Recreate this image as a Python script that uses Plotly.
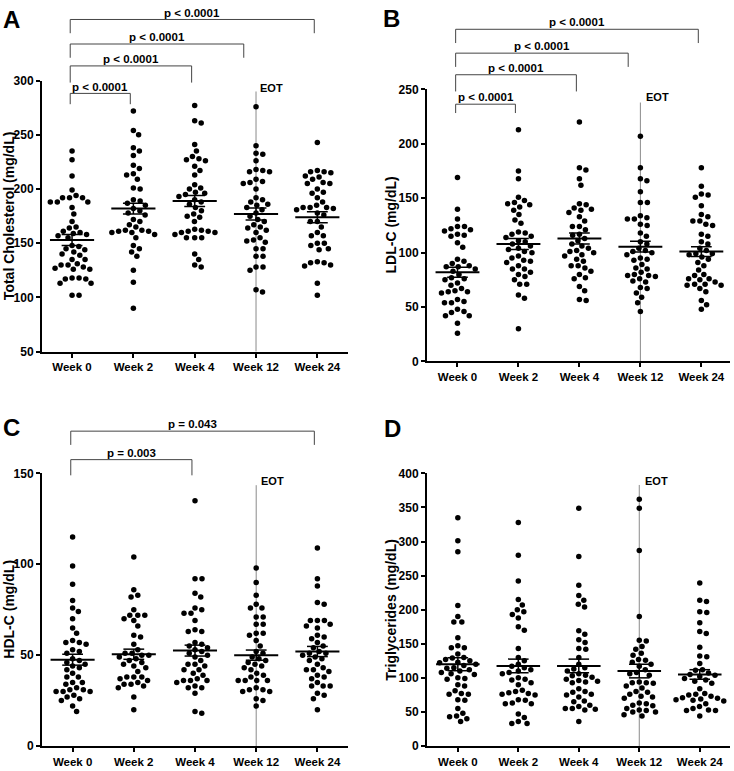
import plotly.graph_objects as go

W, H = 734, 771

weeks = ["Week 0", "Week 2", "Week 4", "Week 12", "Week 24"]

# ---------------- data ----------------
tc_w0 = [235, 227, 212, 199, 194, 192, 192, 192, 188, 188, 188, 183, 177, 170, 165, 164, 161, 160, 159, 158,
         157, 155, 148, 147, 145, 144, 142, 140, 139, 135, 135, 131, 130, 130, 128, 127, 126, 126, 118, 118,
         117, 117, 113, 113, 102, 102]
tc_w2 = [272, 254, 250, 238, 235, 231, 222, 219, 214, 213, 209, 201, 200, 190, 189, 187, 185, 182, 180, 178,
         176, 172, 170, 167, 165, 162, 162, 161, 161, 160, 160, 158, 155, 148, 145, 142, 138, 125, 114, 90]
tc_w4 = [277, 263, 261, 241, 235, 230, 228, 227, 226, 221, 217, 213, 204, 201, 200, 197, 196, 195, 193, 190,
         188, 186, 183, 180, 177, 175, 174, 170, 163, 162, 161, 161, 160, 160, 158, 155, 155, 155, 140, 135,
         130, 128]
tc_w12 = [276, 240, 233, 232, 226, 218, 217, 216, 216, 209, 207, 206, 205, 200, 192, 190, 188, 186, 185, 183,
          181, 178, 175, 172, 170, 167, 165, 164, 162, 160, 155, 153, 152, 151, 145, 145, 138, 138, 128, 128,
          125, 107, 105]
tc_w24 = [243, 217, 216, 216, 215, 212, 211, 209, 206, 205, 205, 200, 197, 196, 192, 188, 185, 183, 183, 183,
          182, 181, 178, 176, 170, 170, 165, 160, 157, 157, 150, 150, 148, 145, 144, 133, 132, 132, 130, 129,
          113, 102]
tc_mean = [153, 182, 189, 177, 174]
tc_sem = [5, 5, 5, 5.5, 5]

ldl_w0 = [169, 140, 131, 124, 124, 122, 121, 120, 117, 116, 115, 109, 105, 94, 92, 90, 88, 87, 87, 85,
          83, 80, 77, 76, 75, 72, 70, 67, 65, 64, 64, 63, 57, 55, 54, 54, 48, 46, 45, 42, 42, 35, 26]
ldl_w2 = [213, 175, 168, 151, 148, 146, 145, 144, 142, 139, 135, 130, 127, 119, 118, 117, 115, 114, 111, 110,
          108, 106, 104, 103, 101, 100, 97, 95, 93, 92, 91, 88, 85, 85, 82, 80, 78, 75, 71, 71, 61, 58, 30]
ldl_w4 = [220, 178, 176, 168, 162, 145, 144, 141, 140, 139, 137, 133, 129, 124, 124, 121, 117, 116, 113, 111,
          108, 106, 104, 102, 101, 100, 98, 97, 94, 92, 88, 88, 86, 83, 80, 77, 76, 69, 65, 57, 56]
ldl_w12 = [207, 178, 168, 166, 156, 146, 146, 134, 132, 131, 131, 126, 125, 118, 115, 110, 108, 104, 102, 101,
           100, 98, 95, 94, 93, 89, 86, 85, 82, 80, 79, 79, 78, 76, 74, 73, 68, 67, 63, 59, 54, 46]
ldl_w24 = [178, 161, 154, 153, 151, 143, 135, 133, 129, 129, 126, 125, 117, 115, 110, 108, 104, 102, 99, 99,
           98, 96, 94, 91, 88, 84, 80, 79, 76, 76, 75, 73, 71, 71, 70, 70, 67, 64, 56, 52, 48]
ldl_mean = [82, 108, 113, 105.5, 101]
ldl_sem = [4.5, 5, 5, 5, 4.5]

hdl_w0 = [115, 99, 89, 80, 76, 74, 70, 65, 62, 58, 57, 57, 56, 53, 52, 51, 48, 47, 46, 45,
          44, 43, 42, 40, 38, 38, 35, 35, 34, 32, 31, 31, 30, 30, 30, 28, 27, 26, 25, 22, 19]
hdl_w2 = [104, 86, 83, 82, 75, 72, 72, 72, 70, 69, 66, 61, 60, 56, 53, 51, 51, 50, 50, 49,
          48, 47, 46, 45, 44, 43, 41, 38, 38, 38, 37, 36, 35, 34, 34, 33, 32, 27, 20]
hdl_w4 = [135, 92, 92, 84, 82, 76, 75, 73, 73, 69, 64, 63, 63, 57, 56, 55, 54, 53, 52, 51,
          50, 49, 47, 45, 45, 44, 42, 42, 40, 39, 37, 36, 36, 36, 35, 33, 32, 32, 29, 19, 18]
hdl_w12 = [98, 90, 83, 78, 76, 76, 71, 71, 67, 67, 62, 62, 61, 58, 55, 52, 51, 49, 48, 47,
           46, 45, 44, 43, 42, 40, 39, 38, 36, 36, 36, 36, 32, 31, 31, 30, 30, 26, 25, 22]
hdl_w24 = [109, 92, 88, 79, 78, 69, 69, 69, 67, 66, 65, 61, 60, 59, 57, 55, 54, 52, 51, 51,
           50, 49, 48, 47, 45, 43, 42, 42, 41, 39, 38, 37, 35, 33, 33, 33, 29, 28, 26, 20]
hdl_mean = [47.5, 50.5, 52.5, 50, 52]
hdl_sem = [3, 2.8, 3, 2.8, 2.8]

tg_w0 = [335, 301, 285, 206, 190, 182, 182, 159, 147, 144, 144, 135, 130, 129, 127, 125, 123, 122, 120, 118,
         115, 114, 112, 110, 108, 106, 105, 100, 99, 98, 90, 88, 81, 77, 76, 76, 68, 67, 55, 48, 44, 43, 40, 36]
tg_w2 = [328, 280, 242, 215, 207, 200, 197, 193, 188, 175, 170, 143, 130, 125, 120, 117, 115, 112, 110, 108,
         106, 100, 98, 97, 93, 90, 82, 80, 78, 77, 76, 75, 68, 67, 63, 62, 62, 47, 42, 36, 33, 33]
tg_w4 = [349, 278, 236, 221, 214, 208, 204, 169, 164, 156, 152, 143, 142, 130, 120, 115, 113, 110, 106, 104,
         103, 101, 98, 96, 95, 94, 93, 84, 80, 79, 76, 75, 72, 66, 65, 60, 58, 55, 55, 54, 53, 36]
tg_w12 = [362, 349, 287, 190, 155, 154, 146, 142, 136, 133, 127, 126, 123, 120, 117, 112, 108, 106, 104, 94,
          93, 93, 92, 88, 85, 80, 79, 76, 73, 72, 70, 63, 62, 60, 59, 55, 53, 52, 50, 50, 46, 44]
tg_w24 = [239, 214, 212, 197, 196, 181, 168, 165, 145, 132, 131, 121, 112, 111, 107, 105, 104, 102, 99, 97,
          95, 92, 84, 77, 76, 75, 73, 71, 70, 69, 68, 67, 66, 62, 58, 55, 53, 52, 52, 44]
tg_mean = [120, 117.5, 117.5, 110, 105]
tg_sem = [9.5, 10, 10, 10, 7]

p_labels_A = ["p < 0.0001", "p < 0.0001", "p < 0.0001", "p < 0.0001"]
p_labels_B = ["p < 0.0001", "p < 0.0001", "p < 0.0001", "p < 0.0001"]
p_labels_C = ["p = 0.003", "p = 0.043"]

# ---------------- layout helpers ----------------
def px(x):
    return x / W


def py(y):
    return 1 - y / H


FONT = "Liberation Sans, Arial, Helvetica, sans-serif"

panels = [
    dict(letter="A", groups=[tc_w0, tc_w2, tc_w4, tc_w12, tc_w24], mean=tc_mean, sem=tc_sem,
         title="Total Cholesterol (mg/dL)", xdom=(42, 348), ydom=(351, 75), yr=(50, 300), xr=(-0.49, 4.5),
         letter_pos=(12, 13), title_x=9, eot_top=290, eot_txt=(271, 82),
         brackets=[(1, 88, 11, p_labels_A[0]), (2, 60, 17, p_labels_A[1]),
                   (3, 37.7, 14, p_labels_A[2]), (4, 12.7, 14, p_labels_A[3])]),
    dict(letter="B", groups=[ldl_w0, ldl_w2, ldl_w4, ldl_w12, ldl_w24], mean=ldl_mean, sem=ldl_sem,
         title="LDL-C (mg/dL)", xdom=(427, 730), ydom=(361, 84), yr=(0, 250), xr=(-0.5, 4.47),
         letter_pos=(391, 12), title_x=391, eot_top=238, eot_txt=(657, 92),
         brackets=[(1, 99, 9, p_labels_B[0]), (2, 69, 17, p_labels_B[1]),
                   (3, 47, 14, p_labels_B[2]), (4, 22.7, 14, p_labels_B[3])]),
    dict(letter="C", groups=[hdl_w0, hdl_w2, hdl_w4, hdl_w12, hdl_w24], mean=hdl_mean, sem=hdl_sem,
         title="HDL-C (mg/dL)", xdom=(42, 348), ydom=(752.7, 475), yr=(0, 150), xr=(-0.5, 4.5),
         letter_pos=(12, 428), title_x=9, eot_top=143.5, eot_txt=(272, 483),
         brackets=[(2, 461, 16, p_labels_C[0]), (4, 432, 14, p_labels_C[1])]),
    dict(letter="D", groups=[tg_w0, tg_w2, tg_w4, tg_w12, tg_w24], mean=tg_mean, sem=tg_sem,
         title="Triglycerides (mg/dL)", xdom=(427, 730), ydom=(752.7, 475), yr=(0, 400), xr=(-0.51, 4.5),
         letter_pos=(392, 429), title_x=391, eot_top=383, eot_txt=(656, 483),
         brackets=[]),
]


def swarm(vals, ypx_per_unit, dmin=6.8, step=0.25):
    placed = []
    offs = {}
    order = sorted(range(len(vals)), key=lambda i: -vals[i])
    cands = [0.0]
    k = 1
    while k * step < 80:
        cands += [k * step, -k * step]
        k += 1
    for i in order:
        yv = vals[i] * ypx_per_unit
        for c in cands:
            ok = True
            for (qx, qy) in placed:
                if (c - qx) ** 2 + (yv - qy) ** 2 < dmin * dmin:
                    ok = False
                    break
            if ok:
                placed.append((c, yv))
                offs[i] = c
                break
    return [offs[i] for i in range(len(vals))]


fig = go.Figure()
layout = dict(width=W, height=H, margin=dict(l=0, r=0, t=0, b=0), paper_bgcolor="white",
              plot_bgcolor="white", showlegend=False)
shapes = []
annots = []

for n, p in enumerate(panels):
    sfx = "" if n == 0 else str(n + 1)
    xa, ya = "x" + sfx, "y" + sfx
    x0p, x1p = p["xdom"]
    yb, yt = p["ydom"]
    ypx = (yb - yt) / (p["yr"][1] - p["yr"][0])
    xpx = (x1p - x0p) / (p["xr"][1] - p["xr"][0])

    layout["xaxis" + sfx] = dict(domain=[px(x0p), px(x1p)], range=list(p["xr"]), anchor=ya,
                                 tickvals=list(range(5)), ticktext=weeks, showline=True, linewidth=2,
                                 linecolor="black", ticks="outside", ticklen=4, tickwidth=2,
                                 tickcolor="black", showgrid=False, zeroline=False,
                                 tickfont=dict(family=FONT, size=11.5, color="black", weight="bold"))
    layout["yaxis" + sfx] = dict(domain=[py(yb), py(yt)], range=list(p["yr"]), anchor=xa, dtick=50,
                                 showline=True, linewidth=2, linecolor="black", ticks="outside",
                                 ticklen=4, tickwidth=2, tickcolor="black", showgrid=False,
                                 zeroline=False, ticklabelstandoff=0,
                                 tickfont=dict(family=FONT, size=12, color="black", weight="bold"))

    # EOT line
    shapes.append(dict(type="line", xref=xa, yref=ya, x0=3, x1=3, y0=p["yr"][0], y1=p["eot_top"],
                       line=dict(color="#8a8a8a", width=1), layer="below"))
    annots.append(dict(text="<b>EOT</b>", x=px(p["eot_txt"][0]), y=py(p["eot_txt"][1]), xref="paper",
                       yref="paper", showarrow=False, xanchor="center", yanchor="middle",
                       font=dict(family=FONT, size=11, color="black")))

    for g, vals in enumerate(p["groups"]):
        offs = swarm(vals, ypx)
        fig.add_trace(go.Scatter(x=[g + o / xpx for o in offs], y=vals, mode="markers", xaxis=xa, yaxis=ya,
                                 marker=dict(size=5.5, color="black", line=dict(width=0)),
                                 cliponaxis=False, hoverinfo="y"))
        m, s = p["mean"][g], p["sem"][g]
        fig.add_trace(go.Scatter(x=[g - 0.36, g + 0.36], y=[m, m], mode="lines", xaxis=xa, yaxis=ya,
                                 line=dict(color="black", width=2), hoverinfo="skip"))
        fig.add_trace(go.Scatter(x=[g - 0.17, g + 0.17, None, g, g, None, g - 0.17, g + 0.17],
                                 y=[m + s, m + s, None, m + s, m - s, None, m - s, m - s], mode="lines",
                                 xaxis=xa, yaxis=ya, line=dict(color="black", width=1.5), hoverinfo="skip"))

    # significance brackets
    for (j, yline, drop, lab) in p["brackets"]:
        left = -0.03
        right = j - (0.2 if j == 3 else 0.05)
        shapes.append(dict(type="path", xref=xa, yref="paper",
                           path=f"M {left},{py(yline + drop)} L {left},{py(yline)} L {right},{py(yline)} L {right},{py(yline + drop)}",
                           line=dict(color="#444444", width=1)))
        annots.append(dict(text=f"<b>{lab}</b>", x=(left + right) / 2, y=py(yline - 7), xref=xa,
                           yref="paper", showarrow=False, xanchor="center", yanchor="middle",
                           font=dict(family=FONT, size=11.5, color="black")))

    # y title
    annots.append(dict(text=f"<b>{p['title']}</b>", x=px(p["title_x"]), y=py((yb + yt) / 2), xref="paper",
                       yref="paper", showarrow=False, textangle=-90, xanchor="center", yanchor="middle",
                       font=dict(family=FONT, size=14, color="black")))
    # panel letter
    annots.append(dict(text=f"<b>{p['letter']}</b>", x=px(p["letter_pos"][0]), y=py(p["letter_pos"][1]),
                       xref="paper", yref="paper", showarrow=False, xanchor="center", yanchor="middle",
                       font=dict(family=FONT, size=24, color="black")))

layout["shapes"] = shapes
layout["annotations"] = annots
fig.update_layout(**layout)
fig.write_html("out.html", config={"displayModeBar": False},
               post_script="document.body.style.margin='0';document.body.style.overflow='hidden';")
